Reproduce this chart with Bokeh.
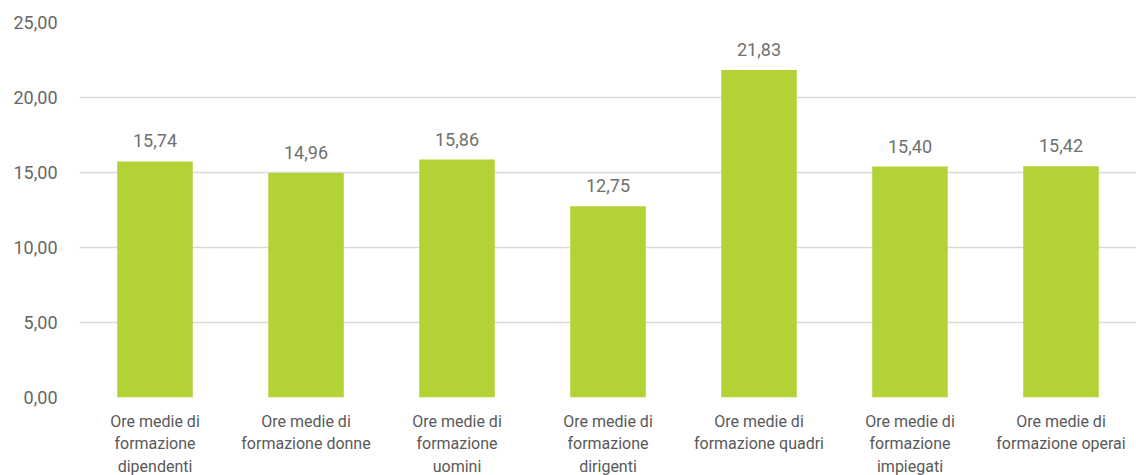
from bokeh.plotting import figure
from bokeh.models import ColumnDataSource, LabelSet, FixedTicker, Range1d
from bokeh.core.properties import value
from bokeh.embed import file_html
from bokeh.resources import INLINE

categories = ["dipendenti", "donne", "uomini", "dirigenti", "quadri", "impiegati", "operai"]
cat_labels = [
    "Ore medie di\nformazione\ndipendenti",
    "Ore medie di\nformazione donne",
    "Ore medie di\nformazione\nuomini",
    "Ore medie di\nformazione\ndirigenti",
    "Ore medie di\nformazione quadri",
    "Ore medie di\nformazione\nimpiegati",
    "Ore medie di\nformazione operai",
]
values = [15.74, 14.96, 15.86, 12.75, 21.83, 15.40, 15.42]
y_ticks = [0, 5, 10, 15, 20, 25]

FONT = "Roboto"

def fmt(v):
    return f"{v:.2f}".replace(".", ",")

idx = list(range(len(categories)))
src = ColumnDataSource(dict(
    x=idx, cat=categories, val=values,
    vtxt=[fmt(v) for v in values],
))

p = figure(x_range=Range1d(-0.5, len(categories) - 0.5), y_range=(0, 25),
           frame_width=1057, frame_height=375,
           output_backend="svg", toolbar_location=None,
           min_border_left=79, min_border_right=0, min_border_top=22, min_border_bottom=0)
p.outline_line_color = None
p.background_fill_color = "white"

p.vbar(x="x", top="val", width=0.5, source=src, color="#b2d235", line_color=None)

p.xgrid.grid_line_color = None
p.ygrid.grid_line_color = "#d9d9d9"
p.ygrid.grid_line_width = 1.3

p.xaxis.ticker = FixedTicker(ticks=idx)
p.xaxis.axis_line_color = None
p.xaxis.major_tick_line_color = None
p.xaxis.minor_tick_line_color = None
p.xaxis.major_label_overrides = dict(zip(idx, cat_labels))
p.xaxis.major_label_text_font = FONT
p.xaxis.major_label_text_font_size = "16px"
p.xaxis.major_label_text_color = "#595959"
p.xaxis.major_label_standoff = 8

p.yaxis.axis_line_color = None
p.yaxis.major_tick_line_color = None
p.yaxis.minor_tick_line_color = None
p.yaxis.ticker = FixedTicker(ticks=y_ticks)
p.yaxis.major_label_overrides = {t: fmt(t) for t in y_ticks}
p.yaxis.major_label_text_font = FONT
p.yaxis.major_label_text_font_size = "18px"
p.yaxis.major_label_text_color = "#666666"
p.yaxis.major_label_standoff = 16

vl = LabelSet(x="x", y="val", text="vtxt", source=src, text_align="center",
              text_baseline="bottom", y_offset=14, text_font=value(FONT),
              text_font_size="18px", text_color="#707070")
p.add_layout(vl)

open("out.html", "w").write(file_html(p, INLINE))
